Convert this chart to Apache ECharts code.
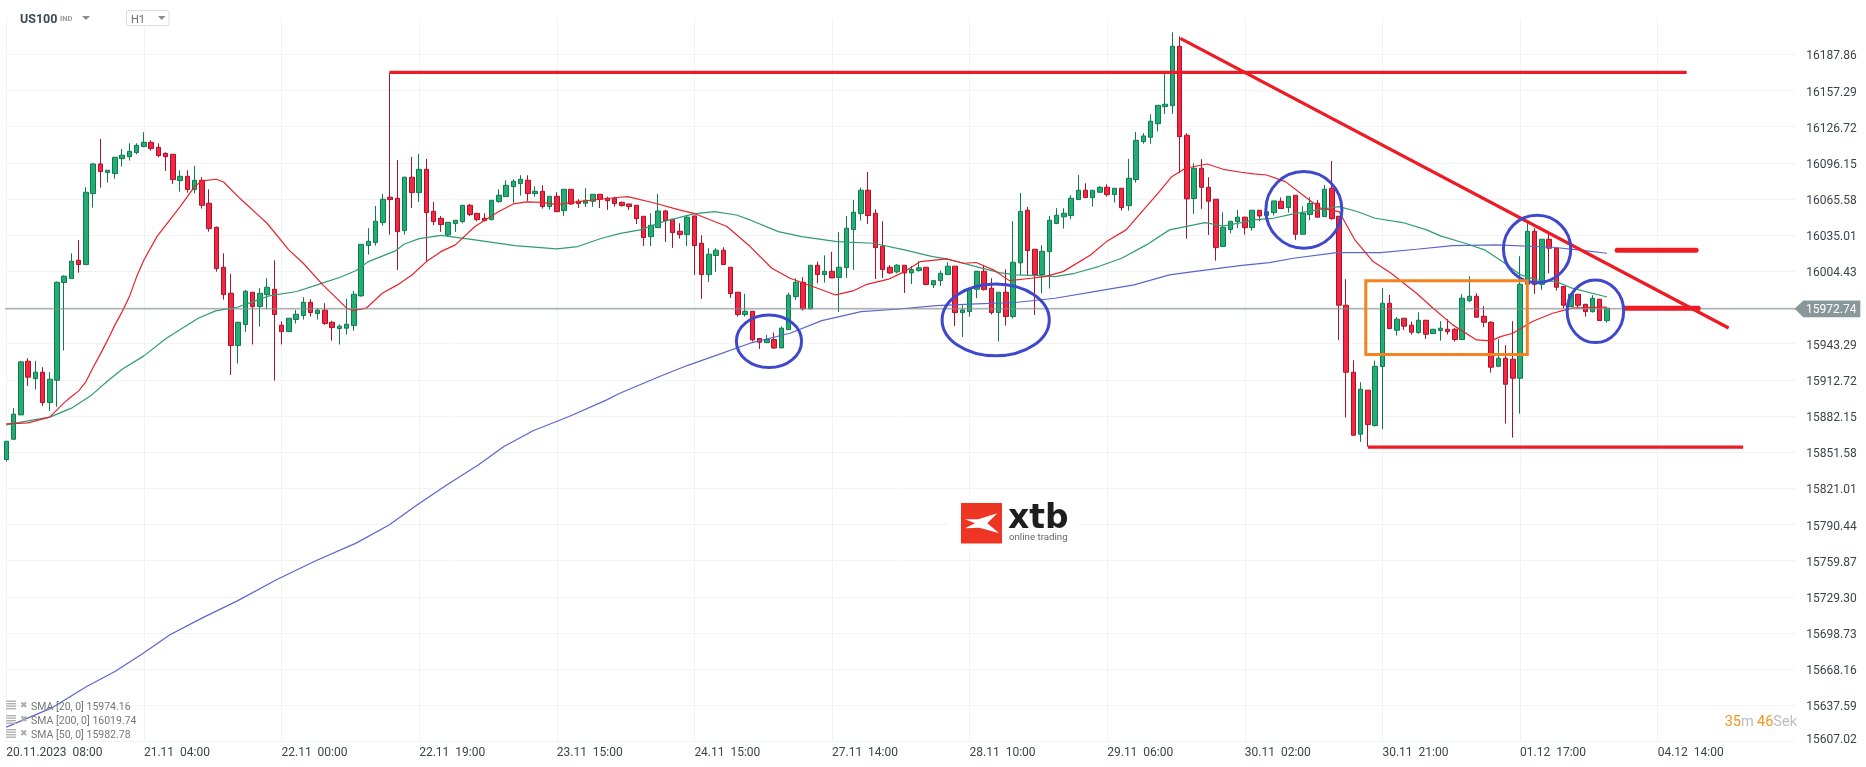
<!DOCTYPE html>
<html><head><meta charset="utf-8">
<style>html,body{margin:0;padding:0;background:#fff}#c{width:1866px;height:767px}</style>
<script src="https://cdn.jsdelivr.net/npm/echarts@6/dist/echarts.min.js"></script>
</head><body><div id="c"></div>
<script>
const opens=[15845.4,15862.5,15883.1,15928.5,15913.8,15919.2,15893.5,15912.4,15995.0,15998.3,
16013.8,16010.2,16070.2,16095.2,16087.9,16087.1,16099.7,16101.4,16104.8,16109.9,
16113.5,16109.3,16104.2,16103.4,16081.2,16084.8,16073.6,16081.4,16062.0,16041.7,
16007.9,15985.9,15941.7,15959.5,15986.8,15974.7,15984.8,15989.3,15958.9,15953.5,
15963.7,15967.1,15978.3,15968.8,15971.6,15961.4,15956.1,15956.4,15958.6,15983.7,
16026.2,16028.8,16045.7,16067.1,16066.2,16038.9,16084.0,16071.0,16090.7,16055.2,
16049.3,16035.2,16044.8,16046.5,16060.3,16053.5,16049.3,16048.2,16063.4,16067.6,
16076.1,16078.6,16081.4,16070.2,16072.1,16059.2,16067.9,16055.8,16073.8,16063.7,
16062.0,16063.7,16069.6,16066.2,16066.2,16062.8,16061.4,16060.3,16051.0,16033.8,
16041.4,16055.5,16048.5,16038.3,16035.5,16051.3,16028.2,16001.7,16017.8,16022.3,
16007.9,15986.8,15967.9,15970.7,15947.6,15944.2,15946.8,15939.7,15955.2,15983.1,
15995.2,15972.7,16009.6,16001.7,16004.5,15999.2,16007.6,16039.8,16053.3,16073.0,
16053.5,16025.7,16007.9,16004.0,16009.6,16003.1,16005.1,16007.9,15993.0,15996.6,
16001.7,16008.8,15969.6,15970.4,15989.3,16004.5,15990.2,15969.6,15986.8,15966.2,
16011.6,16056.1,16023.1,16001.7,16021.1,16044.8,16050.5,16051.6,16065.1,16073.0,
16066.8,16071.3,16075.5,16069.3,16074.7,16060.0,16082.0,16114.1,16117.8,16129.3,
16143.7,16144.5,16194.7,16119.5,16066.0,16091.6,16075.5,16065.4,16025.4,16039.8,
16046.5,16050.2,16041.4,16056.1,16051.6,16054.1,16063.7,16058.3,16068.8,16035.8,
16052.4,16062.0,16050.7,16074.7,16051.0,15975.8,15919.2,15866.8,15904.0,15874.1,
15924.0,15977.5,15954.7,15964.8,15958.9,15952.7,15963.1,15951.8,15954.4,15955.5,
15955.5,15946.8,15979.7,15983.4,15966.5,15961.4,15924.2,15931.0,15930.2,15914.1,
15993.5,16038.3,15993.5,16031.6,16024.0,15991.6,15974.7,15985.1,15976.6,15970.4,
15980.9,15962.8];
const closes=[15860.8,15883.7,15927.9,15915.0,15919.2,15893.5,15913.3,15995.2,16000.3,16013.0,
16010.2,16071.3,16095.2,16088.8,16089.9,16100.9,16102.6,16105.9,16111.0,16113.5,
16108.2,16102.3,16101.4,16082.0,16084.8,16073.6,16081.4,16060.3,16040.6,16006.8,
15984.8,15941.7,15961.4,15987.6,15974.7,15985.9,15991.0,15967.9,15953.5,15964.8,
15968.2,15978.3,15969.6,15971.6,15960.3,15956.9,15958.1,15959.7,15985.1,16027.3,
16029.9,16046.8,16065.4,16065.1,16038.0,16084.0,16071.0,16090.7,16054.1,16046.5,
16044.0,16045.9,16047.6,16060.3,16052.4,16048.2,16047.4,16064.5,16068.8,16077.2,
16080.6,16082.3,16070.2,16072.1,16059.2,16067.9,16054.9,16073.8,16061.4,16061.7,
16064.5,16069.6,16065.4,16064.2,16061.7,16060.0,16059.2,16049.0,16033.0,16043.4,
16055.5,16047.4,16037.2,16035.5,16050.2,16026.2,16001.7,16018.9,16022.3,16010.2,
15985.7,15967.9,15970.7,15946.5,15944.5,15946.8,15939.7,15956.4,15984.3,15995.2,
15972.7,16009.6,16001.7,16004.5,15998.9,16007.9,16040.9,16054.4,16073.0,16051.6,
16024.5,16005.9,16003.1,16009.6,16003.1,16005.9,16007.4,15993.3,15996.6,16002.8,
16008.8,15969.6,15971.8,15989.6,16004.5,15989.0,15969.6,15986.8,15966.2,16012.1,
16055.2,16022.0,16001.7,16021.4,16047.6,16051.9,16053.5,16066.2,16073.0,16066.8,
16073.0,16075.5,16069.3,16074.7,16058.3,16083.1,16115.2,16118.9,16131.3,16144.8,
16145.7,16194.7,16118.3,16065.7,16091.6,16075.5,16063.7,16024.5,16041.7,16046.8,
16050.2,16041.4,16056.1,16051.3,16054.9,16064.0,16057.5,16067.9,16035.8,16053.3,
16062.0,16050.2,16073.8,16049.0,15975.8,15919.2,15865.9,15904.8,15874.9,15924.2,
15977.5,15956.1,15964.0,15958.1,15953.0,15963.1,15951.3,15955.5,15956.4,15953.5,
15946.8,15981.7,15983.4,15965.7,15961.4,15923.4,15931.0,15909.0,15914.1,15993.5,
16038.3,15993.5,16031.6,16024.0,15991.0,15975.8,15985.1,15975.8,15970.4,15981.7,
15962.8,15973.3];
const lows=[15843.7,15862.5,15883.1,15907.6,15904.5,15890.7,15886.5,15889.9,15937.5,15998.3,
16003.4,16010.2,16058.3,16075.2,16079.5,16082.8,16093.0,16098.1,16103.4,16109.3,
16106.5,16100.9,16089.3,16078.3,16071.8,16071.0,16070.4,16057.5,16038.0,16004.2,
15980.6,15916.9,15926.5,15953.3,15942.6,15957.8,15972.4,15912.1,15942.6,15953.5,
15960.3,15963.7,15966.2,15963.7,15959.2,15945.9,15942.6,15951.0,15954.4,15983.1,
16018.6,16026.2,16043.1,16035.5,16005.7,16035.5,16058.0,16063.1,16012.1,16043.4,
16037.8,16034.1,16037.8,16045.1,16051.3,16046.8,16046.8,16047.4,16062.6,16067.4,
16062.3,16068.5,16064.0,16067.6,16057.5,16056.7,16054.7,16051.3,16060.6,16058.0,
16058.9,16058.9,16058.0,16056.4,16059.2,16059.2,16056.4,16044.5,16025.9,16025.9,
16041.4,16029.3,16024.3,16032.1,16025.9,16001.4,15981.2,15995.5,16004.0,16010.2,
15982.0,15966.2,15966.2,15945.1,15938.9,15944.2,15938.9,15939.7,15955.2,15980.3,
15971.3,15972.7,15994.4,15995.0,15998.9,15970.1,15998.9,16005.7,16047.4,16044.5,
15998.0,15998.9,16002.3,16002.8,15986.2,15993.8,16004.2,15992.7,15990.4,15992.1,
16001.7,15958.3,15949.0,15966.2,15981.7,15988.2,15967.9,15945.1,15958.6,15964.5,
16001.4,16000.6,15967.6,15985.7,15989.9,16044.8,16040.6,16048.5,16064.8,16066.8,
16059.2,16071.0,16067.6,16062.6,16055.8,16055.8,16079.5,16112.4,16112.4,16122.8,
16137.5,16137.5,16087.4,16032.1,16053.0,16057.2,16035.2,16013.5,16025.4,16036.6,
16040.9,16035.5,16038.9,16046.8,16049.0,16051.6,16057.5,16054.1,16031.0,16035.8,
16047.6,16050.2,16050.7,16048.0,15946.5,15880.9,15865.9,15860.3,15856.3,15873.3,
15871.0,15956.1,15950.2,15954.9,15951.0,15951.6,15947.3,15951.8,15945.9,15951.0,
15945.1,15946.8,15978.3,15965.7,15957.2,15918.9,15923.4,15875.8,15863.9,15884.2,
15993.5,15985.4,15988.8,16002.8,15988.2,15973.0,15974.7,15973.8,15966.2,15969.6,
15962.8,15961.1];
const highs=[15860.8,15888.8,15928.8,15931.0,15928.8,15923.4,15919.2,15995.8,16001.1,16019.7,
16031.0,16075.5,16095.8,16116.4,16089.9,16100.9,16107.9,16112.7,16112.7,16122.0,
16115.2,16112.7,16105.1,16103.4,16089.9,16089.9,16093.6,16084.0,16073.8,16042.3,
16019.7,16002.3,15961.4,15988.8,15986.8,15990.2,15998.6,16013.8,15962.3,15964.8,
15971.8,15982.6,15980.9,15973.3,15977.5,15962.6,15959.7,15981.2,15987.9,16027.3,
16040.9,16059.7,16069.9,16172.4,16098.6,16084.5,16101.2,16103.7,16099.5,16063.1,
16051.3,16045.9,16047.6,16060.3,16061.4,16053.5,16053.5,16064.5,16073.8,16081.4,
16082.3,16085.7,16085.7,16076.4,16077.2,16067.9,16071.3,16073.8,16073.8,16065.4,
16074.7,16069.6,16069.6,16067.6,16067.6,16063.4,16061.4,16060.3,16051.0,16053.5,
16069.9,16056.4,16048.5,16045.1,16052.1,16051.3,16035.0,16024.0,16024.0,16024.8,
16007.9,15986.8,15985.4,15970.7,15947.6,15950.7,15952.7,15957.8,15986.5,15998.6,
15999.5,16009.6,16012.7,16018.0,16020.9,16037.8,16051.3,16064.8,16075.2,16088.5,
16056.9,16046.8,16009.6,16010.5,16009.6,16009.0,16013.0,16007.9,15996.6,16005.1,
16012.1,16008.8,15975.8,15989.6,16004.5,16009.9,15998.6,15986.8,16006.2,16046.8,
16070.7,16058.9,16023.1,16026.5,16051.3,16057.8,16057.8,16068.8,16085.9,16078.9,
16073.0,16076.6,16078.0,16074.7,16074.7,16099.5,16122.3,16121.2,16137.2,16144.8,
16171.3,16206.5,16203.1,16121.2,16095.8,16099.2,16084.0,16065.4,16054.4,16046.8,
16056.4,16050.7,16056.1,16056.1,16054.9,16064.0,16066.8,16067.9,16068.8,16059.5,
16067.1,16064.8,16077.5,16097.8,16051.0,15997.8,15929.3,15910.7,15904.0,15928.8,
15990.2,15984.5,15965.7,15964.8,15962.0,15969.9,15963.1,15955.5,15962.3,15964.0,
15956.4,15985.1,16000.3,15985.9,15974.9,15962.3,15947.1,15942.0,15962.3,16017.2,
16045.9,16040.9,16031.6,16036.6,16024.0,15991.6,15985.9,15985.1,15976.6,15984.3,
15980.9,15973.3];

const sma20=[[0,15875.5],[3,15876.3],[6,15881.2],[8,15893.5],[9,15898.6],[10,15903.4],[11,15911.3],[12,15923.4],[13,15934.7],[14,15946.5],[15,15959.2],[16,15970.4],[17,15983.1],[18,16000.0],[19,16014.1],[20.8,16033.8],[24,16059.2],[26,16076.1],[27,16080.9],[29,16082.3],[30,16080.0],[32,16067.6],[33,16062.0],[35,16050.7],[36,16045.1],[39,16022.6],[41,16011.3],[43.7,15993.0],[47,15973.3],[47.8,15971.3],[49.7,15973.3],[51.9,15985.9],[54,15993.0],[56,16001.4],[58,16012.7],[60,16021.1],[62,16026.8],[64.7,16042.3],[68,16055.0],[70,16061.4],[71.8,16063.1],[74,16062.8],[76,16060.9],[79,16063.4],[82,16065.4],[84.7,16067.1],[85.8,16067.6],[89.6,16062.0],[92.9,16056.4],[94.9,16053.5],[99.5,16042.3],[102.7,16025.4],[105.7,16007.1],[108.2,15998.6],[112,15990.2],[114.5,15984.5],[116.9,15987.9],[118.8,15993.5],[121.8,15997.8],[124,16004.2],[126.2,16012.7],[129.8,16015.0],[132.2,16011.3],[133.9,16011.9],[136.3,16005.7],[138.5,15996.6],[141.5,15998.6],[143.4,16000.0],[145.9,16004.2],[149.7,16018.3],[151.9,16029.6],[154.6,16039.5],[157,16056.4],[159,16070.4],[160.9,16084.5],[162.8,16091.6],[165.8,16095.2],[168,16090.7],[170.5,16088.2],[172.2,16086.8],[174,16085.9],[176.6,16080.3],[179.9,16064.8],[181.5,16057.8],[184,16055.0],[186.2,16031.0],[188.7,16012.7],[191.2,16002.8],[194.7,15985.9],[197,15973.3],[199.7,15959.2],[203,15946.5],[205,15945.7],[206.3,15949.3],[208,15952.1],[210.7,15962.0],[213.5,15969.0],[216.2,15973.3],[221,15974.16]];
const sma50=[[0,15874.7],[2.8,15877.8],[6,15881.2],[9,15888.8],[11.8,15900.0],[13.9,15911.3],[16,15921.7],[19,15933.0],[22.1,15947.9],[26.5,15964.8],[28.9,15971.0],[31.9,15974.1],[34.1,15978.9],[36.3,15983.7],[40.1,15987.4],[42.9,15993.0],[46.1,15999.5],[48.3,16005.1],[50,16012.7],[53.8,16022.0],[54.9,16027.3],[57,16032.1],[60,16034.9],[64.7,16031.0],[70.2,16026.2],[76,16023.4],[78.9,16025.4],[82.2,16032.4],[84.8,16036.6],[87.5,16039.5],[90.7,16046.5],[94.9,16053.0],[97.8,16055.0],[100.8,16052.1],[102.7,16047.9],[106.6,16038.0],[109.8,16033.8],[114.7,16029.6],[119.7,16028.2],[124,16022.6],[127.9,16016.9],[130,16014.7],[133.9,16008.5],[137.1,16003.4],[139.3,16001.4],[142.6,16000.9],[144.8,16000.0],[147.5,16002.8],[150.8,16008.5],[154,16015.5],[157.4,16026.8],[160.6,16039.5],[162.8,16042.3],[165.5,16045.7],[168,16042.8],[170.5,16045.7],[172.2,16047.9],[174.9,16049.3],[177.7,16053.0],[181.5,16056.9],[184,16059.2],[186.5,16055.0],[189,16049.3],[192.8,16045.7],[196.1,16039.5],[198,16034.4],[201.4,16028.2],[204.1,16022.6],[206.9,16011.3],[209.1,16001.4],[211.3,15997.2],[214,15995.8],[216.2,15990.2],[221,15982.78]];
const sma200=[[0,15619.2],[6.2,15635.2],[11.1,15653.5],[15,15666.2],[18.9,15681.7],[22.6,15697.2],[27,15711.3],[31.9,15725.9],[37.3,15743.7],[42.8,15760.0],[48.3,15774.7],[52.9,15790.2],[56.4,15805.6],[60.8,15823.9],[65.2,15840.9],[68.7,15856.4],[72.8,15869.9],[77.7,15881.7],[82.9,15895.8],[84.7,15901.4],[90.2,15915.5],[94,15924.8],[97.8,15933.0],[102.7,15943.7],[108.2,15952.1],[112.6,15962.8],[118,15970.4],[122.9,15972.4],[128.4,15975.5],[133.9,15976.9],[139.3,15978.1],[144.8,15981.7],[150.2,15987.3],[155.7,15993.0],[160.6,16001.4],[163.9,16004.2],[170.3,16009.3],[174.4,16011.8],[177.7,16015.5],[183.7,16020.3],[189.8,16020.3],[194.7,16023.1],[199.7,16026.2],[205.8,16026.8],[213.5,16024.8],[217.9,16022.0],[221,16019.74]];

const xLabels=['20.11.2023  08:00','21.11  04:00','22.11  00:00','22.11  19:00','23.11  15:00','24.11  15:00','27.11  14:00','28.11  10:00','29.11  06:00','30.11  02:00','30.11  21:00','01.12  17:00','04.12  14:00'];
const yGridValues=[15607.02,15637.59,15668.16,15698.73,15729.30,15759.87,15790.44,15821.01,15851.58,15882.15,15912.72,15943.29,15973.86,16004.43,16035.01,16065.58,16096.15,16126.72,16157.29,16187.86];
const yLabelValues=[15607.02,15637.59,15668.16,15698.73,15729.30,15759.87,15790.44,15821.01,15851.58,15882.15,15912.72,15943.29,16004.43,16035.01,16065.58,16096.15,16126.72,16157.29,16187.86];
const lastPrice=15972.74;
const redThin=[[[52.9,16172.7],[232,16172.7]],[[188,15855.8],[239.8,15855.8]],[[162.1,16201.4],[237.8,15956.6]]];
const redThick=[[[222.4,16022.3],[233.3,16022.3]],[[223.5,15973.3],[233.6,15973.3]]];
const ellipses=[[100.8,109.8,15967.6,15923.1],[129.2,144,15993.8,15933.0],[173.9,184.4,16088.8,16024.0],[206.7,216,16051.9,15994.9],[215.5,223.3,15997.2,15944.2]];
const orangeBox=[[187.7,210,15996.4,15934.1]];
const legendRows=['SMA [20, 0] 15974.16','SMA [200, 0] 16019.74','SMA [50, 0] 15982.78'];

const FONT='Roboto';
const candleData=opens.map((o,i)=>[i,o,closes[i],lows[i],highs[i]]);
const chart=echarts.init(document.getElementById('c'),null,{renderer:'canvas'});
const redLine=(d,w,cap)=>({type:'line',data:d,symbol:'none',clip:false,z:8,silent:true,lineStyle:{color:'#ed1c24',width:w,cap:cap||'butt'}});
const graphics=[
 {type:'rect',shape:{x:948,y:497,width:130,height:51},style:{fill:'#fff'},z:1},
 {type:'rect',shape:{x:961,y:503,width:41,height:40.5},style:{fill:'#ee3524'},z:2},
 {type:'polygon',shape:{points:[[965,519.3],[978.3,519.3],[997.3,513.3],[987.3,523.3],[999.3,533.3],[979.3,527.7],[965,528.3],[975,523.3]]},style:{fill:'#fff'},z:3},
 {type:'text',x:1008,y:519.5,style:{text:'xtb',font:'bold 33px "DejaVu Sans"',fill:'#1e1e1e',verticalAlign:'middle'},z:3},
 {type:'text',x:1009,y:538,style:{text:'online trading',font:'9.7px '+FONT,fill:'#666',verticalAlign:'middle'},z:3},
 {type:'text',x:20,y:19.5,style:{text:'US100',font:'bold 12.5px '+FONT,fill:'#3d4a52',verticalAlign:'middle'},z:20},
 {type:'text',x:60,y:19.5,style:{text:'IND',font:'bold 7.5px '+FONT,fill:'#9a9a9a',verticalAlign:'middle'},z:20},
 {type:'polygon',shape:{points:[[82,16],[90,16],[86,20]]},style:{fill:'#8c8c8c'},z:20},
 {type:'rect',shape:{x:126.5,y:10.5,width:42.5,height:15,r:2},style:{fill:'#fff',stroke:'#ddd',lineWidth:1},z:20},
 {type:'text',x:131,y:20,style:{text:'H1',font:'11px '+FONT,fill:'#6a6a6a',verticalAlign:'middle'},z:21},
 {type:'polygon',shape:{points:[[158,16],[165.5,16],[161.7,20]]},style:{fill:'#8c8c8c'},z:21},
 {type:'text',x:1797,y:722.5,style:{text:'{o|35}{g|m} {o|46}{g|Sek}',align:'right',verticalAlign:'middle',rich:{o:{fill:'#f7941d',font:'14.5px '+FONT},g:{fill:'#bdbdbd',font:'14.5px '+FONT}}},z:20}
];
legendRows.forEach((t,k)=>{
  const y=[707,721.5,735.5][k];
  [-4.5,-2,0.5,3].forEach(d=>graphics.push({type:'rect',shape:{x:6.3,y:y-2+d,width:9.7,height:1.4},style:{fill:'#b0b0b0'},z:20}));
  graphics.push({type:'text',x:20,y:y-1.5,style:{text:'✖',font:'9px "DejaVu Sans"',fill:'#aaa',verticalAlign:'middle'},z:20});
  graphics.push({type:'text',x:31,y:y,style:{text:t,font:'10.5px '+FONT,fill:'#777',verticalAlign:'middle'},z:20});
});
chart.setOption({
 animation:false,backgroundColor:'#fff',
 grid:{left:6.3,top:18.2,width:1789,height:723.3,containLabel:false},
 xAxis:{type:'value',min:0,max:247,interval:19,
   axisLine:{show:false},axisTick:{show:false},
   splitLine:{show:true,showMaxLine:false,lineStyle:{color:'#f2f3f4',width:1}},
   axisLabel:{show:true,align:'left',margin:5,showMaxLabel:false,color:'#3c4448',fontFamily:FONT,fontSize:12,
     formatter:v=>xLabels[Math.round(v/19)]||''}},
 yAxis:{type:'value',position:'right',min:15607.02,max:16218.43,scale:true,
   axisLine:{show:false},
   axisTick:{show:false,customValues:yGridValues},
   splitLine:{show:true,customValues:yGridValues,lineStyle:{color:'#f2f3f4',width:1}},
   axisLabel:{show:true,customValues:yLabelValues,align:'left',margin:11,verticalAlign:'top',lineHeight:4,color:'#3c4448',fontFamily:FONT,fontSize:12,verticalAlignMinLabel:'bottom',
     rich:{m:{lineHeight:8,fontFamily:FONT,fontSize:12,color:'#3c4448'}},
     formatter:(v,i)=>i===0?'{m|'+v.toFixed(2)+'}':v.toFixed(2)}},
 graphic:{elements:graphics},
 series:[
  {type:'candlestick',data:candleData,barWidth:5,clip:false,z:3,silent:true,
   itemStyle:{color:'#22ad72',color0:'#f5263f',borderColor:'#0f7a50',borderColor0:'#a8122c',borderWidth:1}},
  {type:'line',data:sma200,symbol:'none',clip:false,z:4,silent:true,lineStyle:{color:'#5a66cc',width:1.2}},
  {type:'line',data:sma50,symbol:'none',clip:false,z:4,silent:true,lineStyle:{color:'#2e9c74',width:1.2}},
  {type:'line',data:sma20,symbol:'none',clip:false,z:4,silent:true,lineStyle:{color:'#e8222a',width:1.2}},
  {type:'line',data:[[-0.6,lastPrice],[247.2,lastPrice]],symbol:'none',clip:false,z:5,silent:true,lineStyle:{color:'#80898c',width:1}},
  redLine(redThin[0],3.3),redLine(redThin[1],3.3),redLine(redThin[2],3.3),
  redLine(redThick[0],5,'round'),redLine(redThick[1],5,'round'),
  {type:'custom',data:ellipses,clip:false,z:9,silent:true,encode:{x:[0,1],y:[2,3]},
   renderItem:(p,api)=>{const a=api.coord([api.value(0),api.value(2)]),b=api.coord([api.value(1),api.value(3)]);
     return {type:'ellipse',shape:{cx:(a[0]+b[0])/2,cy:(a[1]+b[1])/2,rx:Math.abs(b[0]-a[0])/2,ry:Math.abs(b[1]-a[1])/2},style:{fill:null,stroke:'#3f48cc',lineWidth:3}};}},
  {type:'custom',data:orangeBox,clip:false,z:9,silent:true,encode:{x:[0,1],y:[2,3]},
   renderItem:(p,api)=>{const a=api.coord([api.value(0),api.value(2)]),b=api.coord([api.value(1),api.value(3)]);
     return {type:'rect',shape:{x:a[0],y:a[1],width:b[0]-a[0],height:b[1]-a[1]},style:{fill:null,stroke:'#f58220',lineWidth:3}};}},
  {type:'custom',data:[[247,lastPrice]],clip:false,z:12,silent:true,encode:{x:0,y:1},
   renderItem:(p,api)=>{const c=api.coord([api.value(0),api.value(1)]);
     return {type:'group',children:[
       {type:'polygon',shape:{points:[[c[0]-0.7,c[1]],[c[0]+8,c[1]-8.3],[c[0]+65,c[1]-8.3],[c[0]+65,c[1]+8.3],[c[0]+8,c[1]+8.3]]},style:{fill:'#8a979a'}},
       {type:'text',style:{x:c[0]+10.7,y:c[1]+1,text:lastPrice.toFixed(2),fill:'#fff',font:'12px '+FONT,verticalAlign:'middle'}}]};}}
 ]
});
</script></body></html>
